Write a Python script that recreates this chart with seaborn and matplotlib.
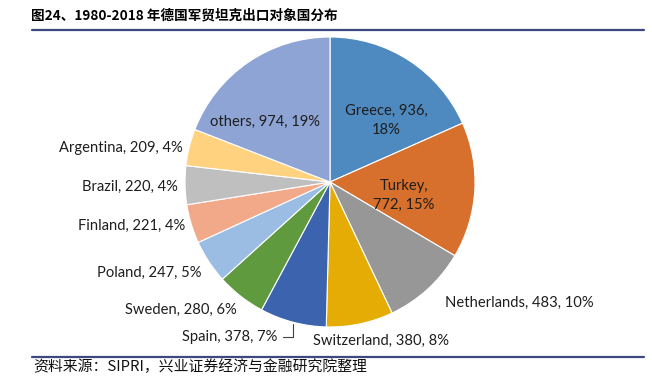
import numpy as np
import matplotlib
matplotlib.use("Agg")
import matplotlib.pyplot as plt
import seaborn as sns
from matplotlib.lines import Line2D

sns.set_theme(style="white")
plt.rcParams['font.family'] = ['Lato', 'Noto Sans CJK SC', 'DejaVu Sans']

# ---- data ----
countries = ["Greece", "Turkey", "Netherlands", "Switzerland", "Spain", "Sweden",
             "Poland", "Finland", "Brazil", "Argentina", "others"]
values = [936, 772, 483, 380, 378, 280, 247, 221, 220, 209, 974]
percents = ["18%", "15%", "10%", "8%", "7%", "6%", "5%", "4%", "4%", "4%", "19%"]
title_text = "图24、1980-2018 年德国军贸坦克出口对象国分布"
source_text = "资料来源：SIPRI，兴业证券经济与金融研究院整理"

# ---- style / layout ----
colors = ["#4E89BF", "#D7702C", "#979797", "#E5AC06", "#3C64AE", "#5F9A3E",
          "#9BBDE4", "#F1A98A", "#BFBFBF", "#FFD280", "#8EA4D5"]
# label offsets (pixels) from wedge outer mid-point, and alignment
label_offsets = [(-23, -60), (-71, -5), (17, -14), (21, -17), (-16, -15), (-4, -14),
                 (-7, -11), (-6, -2), (-7, -2), (-6, -1), (17, -60)]
label_ha = ["center", "center", "left", "center", "right", "right",
            "right", "right", "right", "right", "center"]
two_line = {"Greece": "{c}, {v},\n{p}", "Turkey": "{c},\n{v}, {p}"}

W, H = 652, 384
fig = plt.figure(figsize=(W / 100, H / 100), dpi=100)
fig.patch.set_facecolor("white")

cx, cy, R = 330, 182, 145
ax = fig.add_axes([(cx - R) / W, (H - cy - R) / H, 2 * R / W, 2 * R / H])
wedges, _ = ax.pie(values, colors=colors, startangle=90, counterclock=False,
                   radius=1, wedgeprops=dict(linewidth=0.8, edgecolor="white"))
ax.set_xlim(-1, 1)
ax.set_ylim(-1, 1)
ax.set_aspect("equal")
ax.axis("off")

for i, w in enumerate(wedges):
    ang = np.deg2rad((w.theta1 + w.theta2) / 2)
    xy = (np.cos(ang), np.sin(ang))
    fmt = two_line.get(countries[i], "{c}, {v}, {p}")
    txt = fmt.format(c=countries[i], v=values[i], p=percents[i])
    kw = {}
    if countries[i] == "Spain":
        kw["arrowprops"] = dict(arrowstyle="-", color="#404040", lw=0.8,
                                connectionstyle="angle,angleA=0,angleB=90,rad=0",
                                shrinkA=2, shrinkB=1)
    ax.annotate(txt, xy=xy, xytext=label_offsets[i], textcoords="offset pixels",
                ha=label_ha[i], va="center", multialignment="center",
                fontsize=10.6, color="#1e1e1e", annotation_clip=False,
                linespacing=1.4, **kw)

# title and source
fig.text(31 / W, 1 - 15 / H, title_text, family=['Noto Sans CJK SC', 'DejaVu Sans'],
         fontsize=9.8, fontweight="bold", color="#000000", ha="left", va="center")
fig.text(33 / W, 1 - 367 / H, source_text, family=['Noto Sans CJK SC', 'DejaVu Sans'],
         fontsize=10.7, color="#111111", ha="left", va="center")

for yy in (30, 357):
    fig.add_artist(Line2D([32 / W, 644 / W], [1 - yy / H, 1 - yy / H],
                          transform=fig.transFigure, color="#3D4780", lw=1.6))

fig.savefig("out.png", dpi=100)
